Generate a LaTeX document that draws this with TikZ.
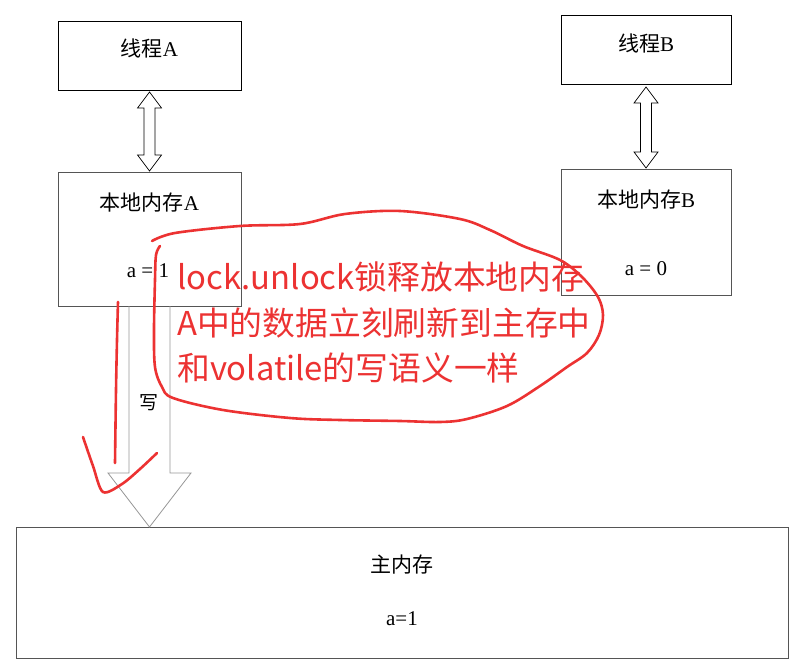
\documentclass[tikz,border=0pt]{standalone}
\usepackage{fontspec}
\setmainfont{Liberation Serif}
\newfontfamily\cjk{Noto Sans CJK SC}
\usetikzlibrary{calc}
\definecolor{annot}{RGB}{236,50,50}
\definecolor{boxgray}{RGB}{85,85,85}
\definecolor{arrgray}{RGB}{150,150,150}
\begin{document}
\begin{tikzpicture}[x=1pt,y=-1pt,
  box/.style={draw=boxgray,line width=0.8pt,inner sep=0pt,outer sep=0pt},
  tbox/.style={box,draw=black},
  lbl/.style={font=\fontsize{21}{25}\selectfont,inner sep=0pt},
  dbl/.style={draw=black,line width=0.7pt,line join=miter},
  wr/.style={draw=arrgray,line width=0.8pt,line join=miter},
  redpen/.style={draw=annot,line width=2.6pt,line cap=round,line join=round},
  redtxt/.style={text=annot,font=\cjk\fontsize{32.8}{40}\selectfont,inner sep=0pt,anchor=base west}]
\useasboundingbox (0,0) rectangle (796,666);
% boxes
\node[tbox,minimum width=183pt,minimum height=69pt] (ta) at (149.5,55.5) {};
\node[box,minimum width=183pt,minimum height=134pt] (la) at (149.5,239) {};
\node[tbox,minimum width=170pt,minimum height=69pt] (tb) at (646,49.5) {};
\node[box,minimum width=170pt,minimum height=126pt] (lb) at (646,232) {};
\node[box,minimum width=772pt,minimum height=131pt] (mn) at (402,592.5) {};
\coordinate (tip) at (la.south |- mn.north);
% labels
\node[lbl] (tat) at (149.5,48) {{\cjk 线程}A};
\node[lbl] (lat) at (149.5,203) {{\cjk 本地内存}A};
\node[lbl] (lav) at (148,271) {a = 1};
\node[lbl] (tbt) at (646,43) {{\cjk 线程}B};
\node[lbl] (lbt) at (646,200) {{\cjk 本地内存}B};
\node[lbl] (lbv) at (646,269) {a = 0};
\node[lbl] (mnt) at (402,565) {\cjk 主内存};
\node[lbl] (mnv) at (402,619) {a=1};
% double arrows
\draw[dbl] ($(ta.south)+(0,2)$) -- ++(12,16) -- ++(-6.5,0) -- ($(la.north)+(5.5,-17)$)
  -- ++(6.5,0) -- ($(la.north)+(0,-1)$) -- ++(-12,-16) -- ++(6.5,0)
  -- ($(ta.south)+(-5.5,18)$) -- ++(-6.5,0) -- cycle;
\draw[dbl] ($(tb.south)+(0,3)$) -- ++(12,16) -- ++(-6.5,0) -- ($(lb.north)+(5.5,-17)$)
  -- ++(6.5,0) -- ($(lb.north)+(0,-1)$) -- ++(-12,-16) -- ++(6.5,0)
  -- ($(tb.south)+(-5.5,19)$) -- ++(-6.5,0) -- cycle;
% write arrow
\draw[wr] ($(la.south)+(-20.5,0)$) -- ++(0,167) -- ++(-21,0) -- (tip)
  -- ($(la.south)+(41.5,167)$) -- ++(-21,0) -- ($(la.south)+(20.5,0)$);
\node[font=\cjk\fontsize{19}{22}\selectfont,inner sep=0pt] (wlbl) at (149,403) {写};
% red annotation text
\node[redtxt] (r1) at (177,289) {lock.unlock锁释放本地内存};
\node[redtxt] (r2) at (177,335) {A中的数据立刻刷新到主存中};
\node[redtxt] (r3) at (177,380) {和volatile的写语义一样};
% red freehand strokes
\draw[redpen] plot[smooth,tension=0.55] coordinates {(152,241) (175,233) (240,226) (300,224) (345,214) (400,211) (460,219) (490,230) (523,246) (560,260) (582,277) (598,297) (603,315) (599,335) (587,353) (567,367) (540,386) (507,406) (467,419) (440,422) (400,421) (340,420) (290,418) (223,410) (173,398) (162,387) (155,367) (154,330) (155,280) (156,255) (160,246)};
\draw[redpen] plot[smooth,tension=0.5] coordinates {(118,302) (117,340) (116,390) (115,463)};
\draw[redpen] plot[smooth,tension=0.5] coordinates {(83,437) (93,466) (103,492) (122,484) (140,469) (157,453)};
\end{tikzpicture}
\end{document}
